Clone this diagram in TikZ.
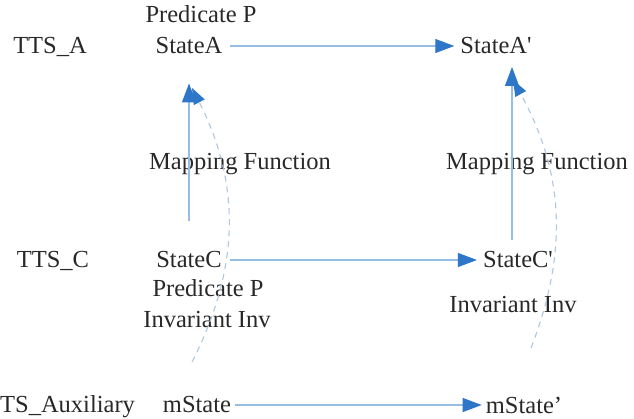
\documentclass[tikz,border=0pt]{standalone}
\usepackage{fontspec}
\setmainfont{Liberation Serif}
\usetikzlibrary{arrows.meta,positioning,calc}
\definecolor{linec}{RGB}{150,190,226}
\definecolor{headc}{RGB}{45,118,200}
\definecolor{dashc}{RGB}{175,198,222}
\definecolor{textc}{RGB}{40,40,40}

\begin{document}
\begin{tikzpicture}[x=1pt, y=-1pt, every node/.style={font=\fontsize{24.5}{28}\selectfont, text=textc, inner sep=2pt}]
    \tikzset{
        a/.style={-{Triangle[length=19pt,width=14pt,color=headc]}, draw=linec, line width=1.1pt},
        d/.style={-{Triangle[length=16pt,width=12pt,color=headc]}, draw=dashc, line width=1.1pt, dash pattern=on 6pt off 5pt}
    }
    \useasboundingbox (0,0) rectangle (634,419);

    % rows
    \node (tta) at (50,47) {TTS\_A};
    \node (prea) at (201,14) {Predicate P};
    \node (statea) at (189,46) {StateA};
    \node (stateap) at (496,46) {StateA\textquotesingle};

    \node (ttc) at (53,261) {TTS\_C};
    \node (statec) at (189,260) {StateC};
    \node (statecp) at (518,260) {StateC\textquotesingle};
    \node (prec) at (208,288) {Predicate P};
    \node (invl) at (207,320) {Invariant Inv};
    \node (invr) at (513,305) {Invariant Inv};

    \node [anchor=west, inner sep=0pt] (tsx) at (0,407) {TS\_Auxiliary};
    \node (ms) at (197,405) {mState};
    \node (msp) at (524,405) {mState’};

    \node (mapl) at (240,164) {Mapping Function};
    \node (mapr) at (537,164) {Mapping Function};

    % transitions
    \draw [a, shorten <=5pt, shorten >=4pt] (statea) -- (stateap);
    \draw [a, shorten <=6pt, shorten >=4pt] (statec) -- (statecp);
    \draw [a, shorten <=2pt, shorten >=2pt] (ms) -- (msp);

    % mappings
    \draw [a, shorten <=29pt, shorten >=27pt] (statec) -- (statea);
    \draw [a, shorten <=20pt, shorten >=21pt] ([xshift=-6pt]statecp.center) -- ([xshift=16pt]stateap.center);

    \coordinate (botl) at (192,362);
    \coordinate (tipl) at (192,88);
    \coordinate (botr) at (531,348);
    \coordinate (tipr) at (513,80);
    \draw [d] (botl) to [bend right=27] (tipl);
    \draw [d] (botr) to [bend right=25] (tipr);

\end{tikzpicture}
\end{document}
